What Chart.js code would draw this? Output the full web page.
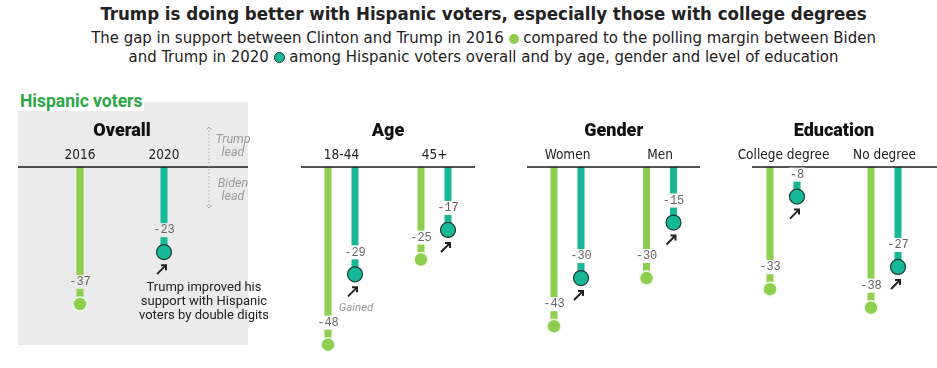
<!DOCTYPE html>
<html>
<head>
<meta charset="utf-8">
<script src="https://cdn.jsdelivr.net/npm/chart.js@4.4.1/dist/chart.umd.min.js"></script>
<style>
  body { margin: 0; width: 937px; height: 368px; background: #fff; position: relative; overflow: hidden; font-family: "Liberation Sans Narrow", "DejaVu Sans Condensed", Roboto, sans-serif; }
  #title { position: absolute; top: 3px; left: 15px; width: 937px; text-align: center; font-size: 18.5px; font-weight: bold; color: #222; }
  #sub { position: absolute; top: 28px; left: 15px; width: 937px; text-align: center; font-size: 16.6px; line-height: 19px; color: #222; }
  .dot { display: inline-block; width: 10px; height: 10px; border-radius: 50%; vertical-align: -1px; }
  .dot.g { background: #8fcf50; }
  .dot.t { background: #17b897; border: 1px solid #1b3d36; width: 9px; height: 9px; }
  #bg { position: absolute; left: 18px; top: 102px; width: 230px; height: 243px; background: #ebebeb; }
  #tag { position: absolute; left: 18px; top: 91px; padding: 0 2px; background: #fff; font-family: Roboto, sans-serif; font-weight: bold; font-size: 17.5px; color: #2aa845; }
  canvas { position: absolute; top: 110px; }
</style>
</head>
<body>
<div id="title">Trump is doing better with Hispanic voters, especially those with college degrees</div>
<div id="sub">The gap in support between Clinton and Trump in 2016 <span class="dot g"></span> compared to the polling margin between Biden<br>and Trump in 2020 <span class="dot t"></span> among Hispanic voters overall and by age, gender and level of education</div>
<div id="bg"></div>
<div id="tag">Hispanic voters</div>
<canvas id="overall"></canvas>
<canvas id="age"></canvas>
<canvas id="gender"></canvas>
<canvas id="edu"></canvas>

<script>
// margin of Trump vs Democrat among Hispanic voters (negative = Democrat lead)
const panelTitles = ['Overall', 'Age', 'Gender', 'Education'];
const overallLabels = ['2016', '2020'];
const overall2016 = [-37];
const overall2020 = [-23];
const ageLabels = ['18-44', '45+'];
const age2016 = [-48, -25];
const age2020 = [-29, -17];
const genderLabels = ['Women', 'Men'];
const gender2016 = [-43, -30];
const gender2020 = [-30, -15];
const eduLabels = ['College degree', 'No degree'];
const edu2016 = [-33, -38];
const edu2020 = [-8, -27];

const GREEN = '#8fcf50';
const TEAL = '#17b897';
const NARROW = '"Liberation Sans Narrow", "DejaVu Sans Condensed", Roboto, sans-serif';

function arrow(ctx, cx, cy) {
    ctx.save();
    ctx.strokeStyle = '#222';
    ctx.lineWidth = 2;
    ctx.beginPath();
    ctx.moveTo(cx - 5, cy + 5);
    ctx.lineTo(cx + 4, cy - 4);
    ctx.moveTo(cx - 1, cy - 4);
    ctx.lineTo(cx + 4, cy - 4);
    ctx.lineTo(cx + 4, cy + 1);
    ctx.stroke();
    ctx.restore();
}

function makePanel(id, cfg) {
    let canvas = document.getElementById(id);
    let width = cfg.right - cfg.left + cfg.padL + cfg.padR;
    canvas.width = width;
    canvas.height = 258;
    canvas.style.left = (cfg.left - cfg.padL) + 'px';

    let split = cfg.split / cfg.gap;
    let xMin = -(cfg.first - cfg.left) / cfg.gap;
    let xMax = (cfg.right - cfg.first) / cfg.gap;

    let pts2016 = cfg.v2016.map((v, i) => ({ x: cfg.x2016 ? cfg.x2016[i] : i - split, y: v }));
    let pts2020 = cfg.v2020.map((v, i) => ({ x: cfg.x2020 ? cfg.x2020[i] : i + split, y: v }));

    let deco = {
        id: 'deco_' + id,
        afterDatasetsDraw(chart) {
            let ctx = chart.ctx;
            let xs = chart.scales.x, ys = chart.scales.y;
            let zero = ys.getPixelForValue(0);
            let area = chart.chartArea;

            // baseline
            ctx.save();
            ctx.strokeStyle = '#1a1a1a';
            ctx.lineWidth = 1.6;
            ctx.beginPath();
            ctx.moveTo(area.left, zero);
            ctx.lineTo(area.right, zero);
            ctx.stroke();

            // titles
            ctx.fillStyle = '#111';
            ctx.textAlign = 'center';
            ctx.textBaseline = 'middle';
            ctx.font = '900 18px Roboto, sans-serif';
            ctx.fillText(cfg.title, (xs.getPixelForValue(0) + xs.getPixelForValue(1)) / 2, 21);
            ctx.font = '13.5px ' + NARROW;
            ctx.fillStyle = '#222';
            cfg.labels.forEach((l, i) => ctx.fillText(l, xs.getPixelForValue(i), 45));

            // value labels with knockout box
            ctx.font = '12px "Liberation Mono", monospace';
            [0, 1].forEach(ds => {
                let meta = chart.getDatasetMeta(ds);
                meta.data.forEach((bar, i) => {
                    let v = chart.data.datasets[ds].data[i].y;
                    let txt = String(v);
                    let w = ctx.measureText(txt).width + 2;
                    let y = bar.y - 22;
                    ctx.fillStyle = cfg.bg;
                    ctx.fillRect(bar.x - w / 2, y - 7, w, 14);
                    ctx.fillStyle = '#666';
                    ctx.fillText(txt, bar.x, y);
                });
            });

            // arrows under the 2020 dots
            chart.getDatasetMeta(3).data.forEach(p => arrow(ctx, p.x - 2, p.y + 17));

            if (cfg.notes) cfg.notes(ctx, chart);
            ctx.restore();
        }
    };

    return new Chart(canvas, {
        type: 'bar',
        data: {
            datasets: [
                { data: pts2016, backgroundColor: GREEN, maxBarThickness: 7, grouped: false, order: 2 },
                { data: pts2020, backgroundColor: TEAL, maxBarThickness: 7, grouped: false, order: 2 },
                { type: 'scatter', data: pts2016, pointRadius: 7, pointBackgroundColor: GREEN, pointBorderColor: '#f4fbee', pointBorderWidth: 1.5, order: 1 },
                { type: 'scatter', data: pts2020, pointRadius: 7.5, pointBackgroundColor: TEAL, pointBorderColor: '#1b3d36', pointBorderWidth: 1.2, order: 1 }
            ]
        },
        options: {
            responsive: false,
            animation: false,
            layout: { autoPadding: false, padding: { left: cfg.padL, right: cfg.padR, top: 0, bottom: 0 } },
            plugins: { legend: { display: false }, tooltip: { enabled: false } },
            scales: {
                x: { type: 'linear', display: false, offset: false, min: xMin, max: xMax },
                y: { display: false, min: -54.3, max: 15.4 }
            }
        },
        plugins: [deco]
    });
}

makePanel('overall', {
    title: panelTitles[0], labels: overallLabels, v2016: overall2016, v2020: overall2020,
    x2016: [0], x2020: [1],
    left: 18, right: 248, first: 80, gap: 84, split: 0, padL: 18, padR: 45, bg: '#ebebeb',
    notes: function(ctx, chart) {
        let xs = chart.scales.x, ys = chart.scales.y;
        let zero = ys.getPixelForValue(0);
        let dot = chart.getDatasetMeta(3).data[0];
        ctx.fillStyle = '#222';
        ctx.font = '13px Roboto, sans-serif';
        ctx.textAlign = 'center';
        ['Trump improved his', 'support with Hispanic', 'voters by double digits'].forEach((t, i) => {
            ctx.fillText(t, dot.x + 40, dot.y + 36 + i * 14);
        });
        // lead key
        let ax = xs.getPixelForValue(1) + 45;
        ctx.strokeStyle = '#aaa';
        ctx.lineWidth = 1;
        ctx.setLineDash([1.5, 2]);
        ctx.beginPath();
        ctx.moveTo(ax, zero - 40);
        ctx.lineTo(ax, zero + 41);
        ctx.stroke();
        ctx.setLineDash([]);
        ctx.beginPath();
        ctx.moveTo(ax - 3, zero - 37); ctx.lineTo(ax, zero - 40); ctx.lineTo(ax + 3, zero - 37);
        ctx.moveTo(ax - 3, zero + 38); ctx.lineTo(ax, zero + 41); ctx.lineTo(ax + 3, zero + 38);
        ctx.stroke();
        ctx.fillStyle = '#999';
        ctx.font = 'italic 12.5px Roboto, sans-serif';
        let tx = ax + 24;
        ctx.fillText('Trump', tx, zero - 27);
        ctx.fillText('lead', tx, zero - 14);
        ctx.fillText('Biden', tx, zero + 17);
        ctx.fillText('lead', tx, zero + 30);
    }
});

makePanel('age', {
    title: panelTitles[1], labels: ageLabels, v2016: age2016, v2020: age2020,
    left: 301, right: 475, first: 341.5, gap: 93, split: 13.5, padL: 25, padR: 25, bg: '#fff',
    notes: function(ctx, chart) {
        let dot = chart.getDatasetMeta(3).data[0];
        ctx.fillStyle = '#999';
        ctx.font = 'italic 11.5px Roboto, sans-serif';
        ctx.textAlign = 'center';
        ctx.fillText('Gained', dot.x + 1, dot.y + 34);
    }
});

makePanel('gender', {
    title: panelTitles[2], labels: genderLabels, v2016: gender2016, v2020: gender2020,
    left: 527, right: 700, first: 567.5, gap: 92.5, split: 13.5, padL: 25, padR: 25, bg: '#fff'
});

makePanel('edu', {
    title: panelTitles[3], labels: eduLabels, v2016: edu2016, v2020: edu2020,
    left: 752, right: 937, first: 783.5, gap: 101, split: 13.5, padL: 25, padR: 0, bg: '#fff'
});
</script>
</body>
</html>
